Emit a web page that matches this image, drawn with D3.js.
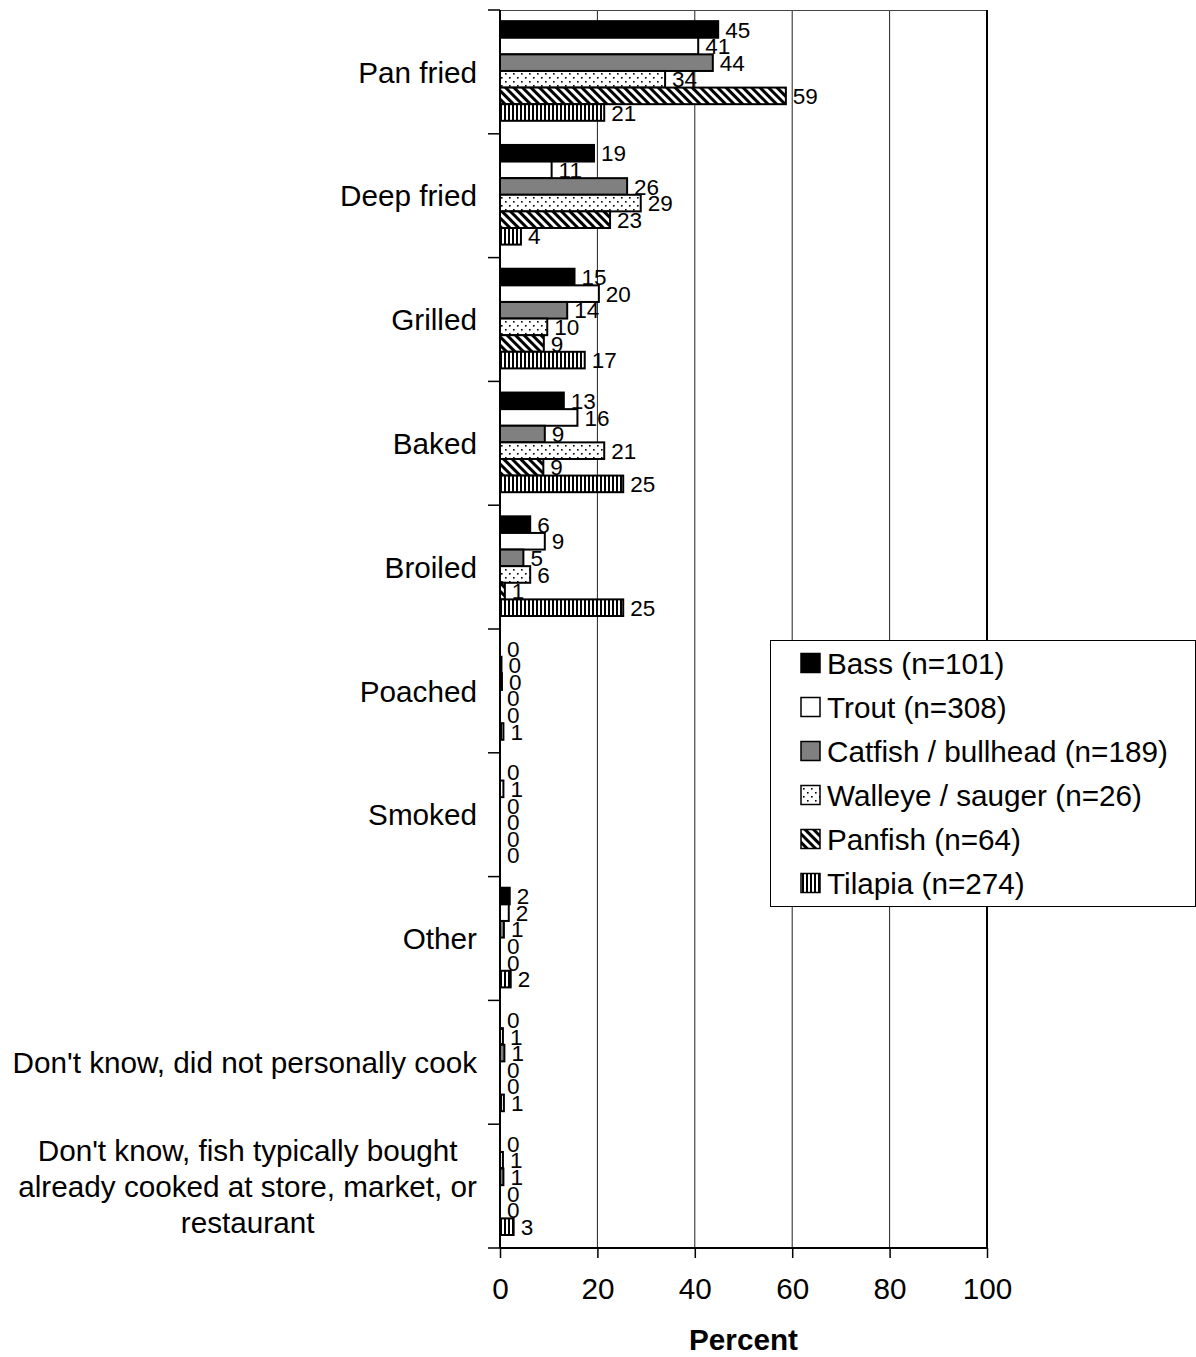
<!DOCTYPE html>
<html lang="en">

<head>
    <meta charset="UTF-8">
    <title>Cooking methods by fish type</title>
    <style>
        body { margin: 0; background: #fff; }
        text { font-family: "Liberation Sans", Arial, sans-serif; fill: #000; }
    </style>
</head>

<body>
    <svg id="chart"></svg>

    <script src="https://d3js.org/d3.v7.min.js"></script>
    <script>
        // categories (top to bottom)
        const categories = [
            'Pan fried',
            'Deep fried',
            'Grilled',
            'Baked',
            'Broiled',
            'Poached',
            'Smoked',
            'Other',
            "Don't know, did not personally cook",
            "Don't know, fish typically bought|already cooked at store, market, or|restaurant",
        ];

        // series names (legend)
        const seriesNames = [
            'Bass (n=101)',
            'Trout (n=308)',
            'Catfish / bullhead (n=189)',
            'Walleye / sauger (n=26)',
            'Panfish (n=64)',
            'Tilapia (n=274)',
        ];

        // percent values, one array per series, same order as categories
        const bass = [44.8, 19.3, 15.3, 13.1, 6.2, 0, 0, 2.0, 0, 0];
        const trout = [40.7, 10.6, 20.3, 15.9, 9.2, 0.3, 0.7, 1.8, 0.6, 0.6];
        const catfish = [43.7, 26.1, 13.8, 9.2, 4.8, 0.4, 0, 0.8, 0.9, 0.7];
        const walleye = [33.9, 28.9, 9.7, 21.4, 6.2, 0, 0, 0, 0, 0];
        const panfish = [58.7, 22.6, 9.0, 8.9, 1.0, 0, 0, 0, 0, 0];
        const tilapia = [21.4, 4.3, 17.4, 25.3, 25.3, 0.7, 0, 2.2, 0.8, 2.8];

        const xTicks = [0, 20, 40, 60, 80, 100];

        const seriesValues = [bass, trout, catfish, walleye, panfish, tilapia];
        const seriesFills = ['#000', '#fff', '#808080', 'url(#dots)', 'url(#diag)', 'url(#vert)'];

        const W = 1196, H = 1357;
        const margin = { top: 10, left: 500, right: 209, bottom: 109 };
        const fontSize = 29.7;

        const svg = d3.select('#chart').attr('width', W).attr('height', H);

        // fill patterns
        const defs = svg.append('defs');

        const dots = defs.append('pattern').attr('id', 'dots')
            .attr('patternUnits', 'userSpaceOnUse').attr('width', 8).attr('height', 8);
        dots.append('rect').attr('width', 8).attr('height', 8).attr('fill', '#fff');
        dots.append('rect').attr('x', 1).attr('y', 1).attr('width', 1.6).attr('height', 1.6).attr('fill', '#000');
        dots.append('rect').attr('x', 5).attr('y', 5).attr('width', 1.6).attr('height', 1.6).attr('fill', '#000');

        const diag = defs.append('pattern').attr('id', 'diag')
            .attr('patternUnits', 'userSpaceOnUse').attr('width', 6).attr('height', 6)
            .attr('patternTransform', 'rotate(-45)');
        diag.append('rect').attr('width', 6).attr('height', 6).attr('fill', '#fff');
        diag.append('rect').attr('width', 3).attr('height', 6).attr('fill', '#000');

        const vert = defs.append('pattern').attr('id', 'vert')
            .attr('patternUnits', 'userSpaceOnUse').attr('width', 4).attr('height', 4);
        vert.append('rect').attr('width', 4).attr('height', 4).attr('fill', '#fff');
        vert.append('rect').attr('width', 2).attr('height', 4).attr('fill', '#000');

        // scales
        const x = d3.scaleLinear()
            .domain([0, 100])
            .range([margin.left, W - margin.right]);

        const y = d3.scaleBand()
            .domain(d3.range(categories.length))
            .range([margin.top, H - margin.bottom])
            .padding(0);

        const yInner = d3.scaleBand()
            .domain(d3.range(seriesNames.length))
            .range([y.bandwidth() * 0.09, y.bandwidth() * 0.895])
            .padding(0);

        const x0 = x(0), x100 = x(100);
        const yTop = margin.top, yBottom = H - margin.bottom;

        // gridlines
        svg.append('g')
            .selectAll('line')
            .data(xTicks.slice(1, -1))
            .join('line')
            .attr('x1', (d) => x(d)).attr('x2', (d) => x(d))
            .attr('y1', yTop).attr('y2', yBottom)
            .attr('stroke', '#222').attr('stroke-width', 1);

        // plot frame top and right
        svg.append('line')
            .attr('x1', x0).attr('x2', x100).attr('y1', yTop + 0.5).attr('y2', yTop + 0.5)
            .attr('stroke', '#444').attr('stroke-width', 1);
        svg.append('line')
            .attr('x1', x100).attr('x2', x100).attr('y1', yTop).attr('y2', yBottom)
            .attr('stroke', '#000').attr('stroke-width', 2);

        // bars
        const rows = [];
        seriesValues.forEach((vals, s) => {
            vals.forEach((v, c) => rows.push({ c, s, v }));
        });

        svg.append('g')
            .selectAll('rect')
            .data(rows.filter((d) => d.v > 0))
            .join('rect')
            .attr('x', x0)
            .attr('y', (d) => y(d.c) + yInner(d.s))
            .attr('width', (d) => x(d.v) - x0)
            .attr('height', yInner.bandwidth())
            .attr('fill', (d) => seriesFills[d.s])
            .attr('stroke', '#000')
            .attr('stroke-width', 2);

        // value labels
        svg.append('g')
            .selectAll('text')
            .data(rows)
            .join('text')
            .attr('x', (d) => x(d.v) + 7)
            .attr('y', (d) => y(d.c) + yInner(d.s) + yInner.bandwidth() / 2)
            .attr('dy', '0.36em')
            .attr('font-size', 22.5)
            .text((d) => Math.round(d.v));

        // x axis
        const xAxis = d3.axisBottom(x).tickValues(xTicks).tickSize(10).tickPadding(20).tickFormat(d3.format('d'));
        const gx = svg.append('g')
            .attr('transform', `translate(0,${yBottom})`)
            .call(xAxis);
        gx.select('.domain').attr('stroke-width', 2).attr('d', `M${x0},0H${x100}`);
        gx.selectAll('.tick line').attr('stroke-width', 1.5);
        gx.selectAll('.tick text').attr('font-size', fontSize).attr('font-family', '"Liberation Sans", Arial, sans-serif');

        svg.append('text')
            .attr('x', (x0 + x100) / 2)
            .attr('y', 1350)
            .attr('text-anchor', 'middle')
            .attr('font-size', fontSize)
            .attr('font-weight', 'bold')
            .text('Percent');

        // y axis line and category boundary ticks
        svg.append('line')
            .attr('x1', x0).attr('x2', x0).attr('y1', yTop).attr('y2', yBottom)
            .attr('stroke', '#000').attr('stroke-width', 2);
        svg.append('g')
            .selectAll('line')
            .data(d3.range(categories.length + 1))
            .join('line')
            .attr('x1', x0 - 12).attr('x2', x0)
            .attr('y1', (d) => margin.top + d * y.step())
            .attr('y2', (d) => margin.top + d * y.step())
            .attr('stroke', '#000').attr('stroke-width', 1.5);

        // category labels
        const labelRight = 477;
        categories.forEach((cat, i) => {
            const cy = y(i) + y.bandwidth() / 2;
            const lines = cat.split('|');
            if (lines.length === 1) {
                svg.append('text')
                    .attr('x', labelRight).attr('y', cy).attr('dy', '0.36em')
                    .attr('text-anchor', 'end').attr('font-size', fontSize)
                    .text(cat);
            } else {
                const t = svg.append('text').attr('font-size', fontSize).attr('text-anchor', 'middle');
                const lh = 36;
                lines.forEach((ln, k) => {
                    t.append('tspan')
                        .attr('y', cy + (k - (lines.length - 1) / 2) * lh)
                        .attr('dy', '0.36em')
                        .text(ln);
                });
                // center the block so its widest line ends at labelRight
                let maxW = 0;
                t.selectAll('tspan').each(function () {
                    maxW = Math.max(maxW, this.getComputedTextLength());
                });
                t.selectAll('tspan').attr('x', labelRight - maxW / 2);
            }
        });

        // legend
        const legend = svg.append('g').attr('transform', 'translate(770,640)');
        legend.append('rect')
            .attr('x', 0.5).attr('y', 0.5).attr('width', 425).attr('height', 266)
            .attr('fill', '#fff').attr('stroke', '#000').attr('stroke-width', 1);

        const items = legend.selectAll('g.item')
            .data(seriesNames)
            .join('g')
            .attr('class', 'item')
            .attr('transform', (d, i) => `translate(0,${23 + i * 44})`);
        items.append('rect')
            .attr('x', 31).attr('y', -9.5).attr('width', 19).attr('height', 19)
            .attr('fill', (d, i) => seriesFills[i])
            .attr('stroke', '#000').attr('stroke-width', 1.5);
        items.append('text')
            .attr('x', 57).attr('dy', '0.36em')
            .attr('font-size', fontSize)
            .text((d) => d);
    </script>
</body>

</html>
